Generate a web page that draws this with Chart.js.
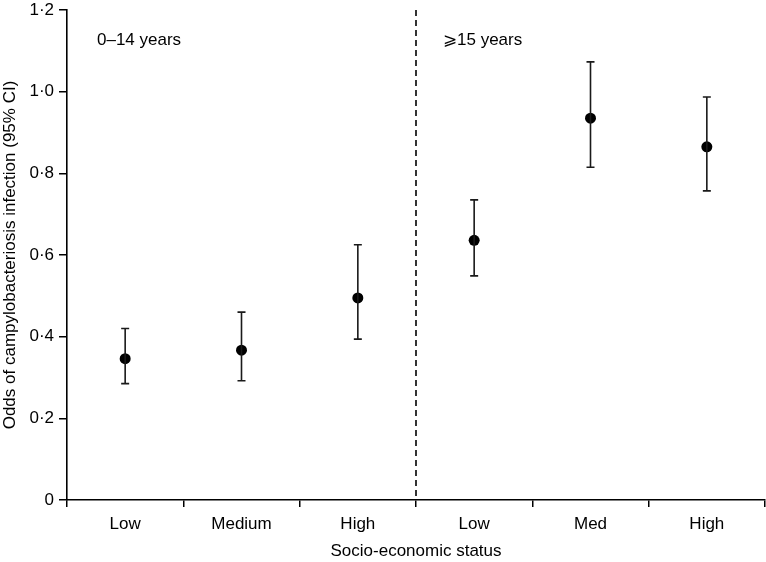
<!DOCTYPE html>
<html>
<head>
<meta charset="utf-8">
<script src="https://cdn.jsdelivr.net/npm/chart.js@4.4.0/dist/chart.umd.min.js"></script>
<style>
  html, body { margin: 0; padding: 0; background: #fff; }
  #wrap { width: 766px; height: 562px; position: relative; }
</style>
</head>
<body>
<div id="wrap"><canvas id="chart" width="766" height="562"></canvas></div>
<script>
const categories = ['Low', 'Medium', 'High', 'Low', 'Med', 'High'];
const oddsRatio = [0.346, 0.367, 0.495, 0.636, 0.935, 0.865];
const ciLower = [0.285, 0.292, 0.394, 0.549, 0.815, 0.757];
const ciUpper = [0.420, 0.460, 0.625, 0.735, 1.073, 0.987];
const groupLabels = ['0\u201314 years', '\u2A7E15 years'];
const yTicks = [0, 0.2, 0.4, 0.6, 0.8, 1.0, 1.2];

const FONT = '"Liberation Sans", Arial, Helvetica, sans-serif';

// the dots would otherwise push the plot area in from the right edge
Chart.registry.getController('line').prototype.getMaxOverflow = function () { return 0; };

// error bars, dashed divider and group labels
const extras = {
    id: 'extras',
    afterDatasetsDraw(chart) {
        const ctx = chart.ctx;
        const x = chart.scales.x;
        const y = chart.scales.y;
        const area = chart.chartArea;

        ctx.save();
        ctx.strokeStyle = '#1a1a1a';
        ctx.lineWidth = 1.6;
        for (let i = 0; i < oddsRatio.length; i++) {
            const px = x.getPixelForValue(i);
            const top = y.getPixelForValue(ciUpper[i]);
            const bot = y.getPixelForValue(ciLower[i]);
            ctx.beginPath();
            ctx.moveTo(px, top);
            ctx.lineTo(px, bot);
            ctx.moveTo(px - 4, top);
            ctx.lineTo(px + 4, top);
            ctx.moveTo(px - 4, bot);
            ctx.lineTo(px + 4, bot);
            ctx.stroke();
        }

        // divider between age groups
        const divX = (x.getPixelForValue(2) + x.getPixelForValue(3)) / 2;
        ctx.strokeStyle = '#000';
        ctx.lineWidth = 1.6;
        ctx.setLineDash([6, 4]);
        ctx.beginPath();
        ctx.moveTo(divX, area.top);
        ctx.lineTo(divX, area.bottom);
        ctx.stroke();
        ctx.setLineDash([]);

        ctx.fillStyle = '#000';
        ctx.font = '17px ' + FONT;
        ctx.textBaseline = 'middle';
        ctx.textAlign = 'left';
        ctx.fillText(groupLabels[0], area.left + 30, 40);
        ctx.fillText(groupLabels[1], divX + 27, 40);
        ctx.restore();
    }
};

new Chart(document.getElementById('chart'), {
    type: 'line',
    data: {
        labels: categories,
        datasets: [{
            data: oddsRatio,
            showLine: false,
            pointRadius: 5.5,
            pointHoverRadius: 5.5,
            pointBackgroundColor: '#000',
            pointBorderColor: '#000',
            pointBorderWidth: 0
        }]
    },
    options: {
        responsive: false,
        animation: false,
        layout: { padding: { top: 10, right: 1, left: 0, bottom: 0 } },
        plugins: {
            legend: { display: false },
            tooltip: { enabled: false }
        },
        scales: {
            x: {
                type: 'category',
                offset: true,
                grid: {
                    offset: true,
                    drawOnChartArea: false,
                    drawTicks: true,
                    tickLength: 7,
                    color: '#000',
                    lineWidth: 1.5
                },
                border: { color: '#000', width: 1.6 },
                ticks: {
                    color: '#000',
                    font: { family: FONT, size: 17 },
                    padding: 7,
                    maxRotation: 0
                },
                title: {
                    display: true,
                    text: 'Socio-economic status',
                    color: '#000',
                    font: { family: FONT, size: 17 },
                    padding: { top: 0, bottom: 0 }
                },
                afterFit(scale) {
                    scale.height = 62;
                    scale.paddingLeft = 0;
                    scale.paddingRight = 0;
                }
            },
            y: {
                min: 0,
                max: 1.2,
                afterBuildTicks(scale) {
                    scale.ticks = yTicks.map(v => ({ value: v }));
                },
                grid: {
                    drawOnChartArea: false,
                    drawTicks: true,
                    tickLength: 8,
                    color: '#000',
                    lineWidth: 1.5
                },
                border: { color: '#000', width: 1.6 },
                ticks: {
                    color: '#000',
                    font: { family: FONT, size: 17 },
                    padding: 5,
                    callback: v => v === 0 ? '0' : Number(v).toFixed(1).replace('.', '\u00B7')
                },
                title: {
                    display: true,
                    text: 'Odds of campylobacteriosis infection (95% CI)',
                    color: '#000',
                    font: { family: FONT, size: 17 },
                    padding: { top: 0, bottom: 0 }
                },
                afterFit(scale) {
                    scale.width = 67;
                    scale.paddingTop = 0;
                    scale.paddingBottom = 0;
                }
            }
        }
    },
    plugins: [extras]
});
</script>
</body>
</html>
